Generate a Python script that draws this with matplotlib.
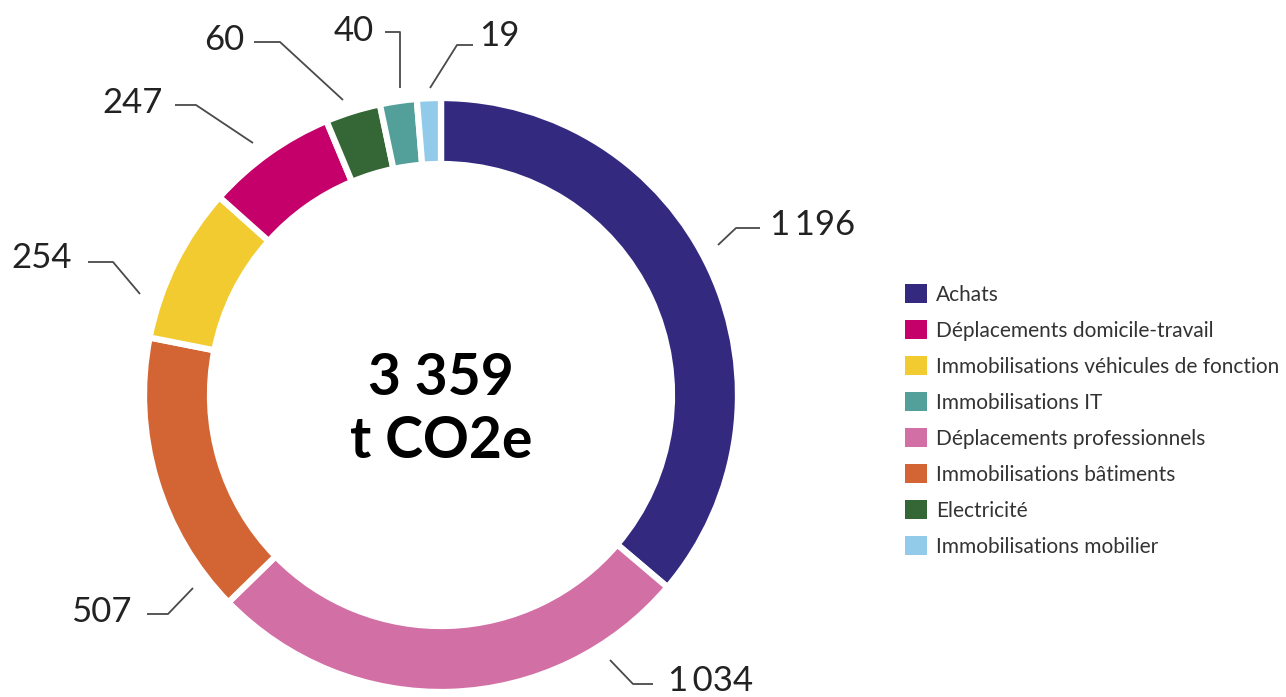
import matplotlib.pyplot as plt
from matplotlib.patches import Patch

plt.rcParams['font.family'] = ['Lato', 'DejaVu Sans']

# data, in clockwise order from 12 o'clock
categories = ['Achats', 'Déplacements professionnels', 'Immobilisations bâtiments',
              'Immobilisations véhicules de fonction', 'Déplacements domicile-travail',
              'Electricité', 'Immobilisations IT', 'Immobilisations mobilier']
values = [1196, 1034, 507, 254, 247, 60, 40, 19]
# wedge sizes as drawn in the picture (% of the ring), they are not exactly proportional
shares = [36.2, 26.5, 15.4, 8.5, 7.1, 3.0, 2.0, 1.3]
value_labels = ['1\u2009196', '1\u2009034', '507', '254', '247', '60', '40', '19']
colors = ['#332a80', '#d26fa5', '#d36433', '#f2cb30', '#c5006a', '#356635', '#52a099', '#92cbea']
total_label = '3 359\nt CO2e'
legend_order = ['Achats', 'Déplacements domicile-travail', 'Immobilisations véhicules de fonction',
                'Immobilisations IT', 'Déplacements professionnels', 'Immobilisations bâtiments',
                'Electricité', 'Immobilisations mobilier']

W, H = 1286, 697
fig = plt.figure(figsize=(W / 100, H / 100), dpi=100)
ax = fig.add_axes([0, 0, 1, 1])


def py(y):
    # pixel row (from top) -> data y
    return H - y


cx, cy, R = 441, 395, 297
ax.pie(shares, colors=colors, startangle=90, counterclock=False,
       center=(cx, py(cy)), radius=R,
       wedgeprops=dict(width=66, edgecolor='white', linewidth=4.5))
ax.set_xlim(0, W)
ax.set_ylim(0, H)
ax.set_aspect('equal')
ax.axis('off')

ax.text(cx, py(410), total_label, ha='center', va='center', fontsize=41,
        fontweight='bold', color='black', linespacing=1.25)

# leader lines: start, elbow, end (pixels) and text anchor
leaders = [
    ((718, 245), (736, 228), (760, 228), (770, 225), 'left'),
    ((610, 660), (633, 684), (653, 684), (668, 681), 'left'),
    ((193, 588), (168, 614), (147, 614), (132, 612), 'right'),
    ((140, 294), (113, 262), (88, 262), (72, 258), 'right'),
    ((253, 143), (196, 105), (175, 105), (163, 103), 'right'),
    ((343, 100), (280, 42), (254, 42), (244, 40), 'right'),
    ((400, 88), (400, 32), (385, 32), (374, 31), 'right'),
    ((430, 88), (457, 45), (473, 45), (479, 36), 'left'),
]
for lab, (p1, p2, p3, pt, ha) in zip(value_labels, leaders):
    ax.plot([p1[0], p2[0], p3[0]], [py(p1[1]), py(p2[1]), py(p3[1])],
            color='#4a4a4a', lw=1.3, solid_capstyle='butt')
    ax.text(pt[0], py(pt[1]), lab, ha=ha, va='center', fontsize=25,
            fontweight='normal', color='#222222')

col = dict(zip(categories, colors))
handles = [Patch(facecolor=col[c], edgecolor='none') for c in legend_order]
fig.legend(handles, legend_order, loc='upper left', bbox_to_anchor=(905 / W, 1 - 284 / H),
           frameon=False, fontsize=15, handlelength=1.05, handleheight=1.05,
           handletextpad=0.45, labelspacing=0.73, borderaxespad=0, borderpad=0,
           labelcolor='#333333')

fig.savefig('out.png', dpi=100)
